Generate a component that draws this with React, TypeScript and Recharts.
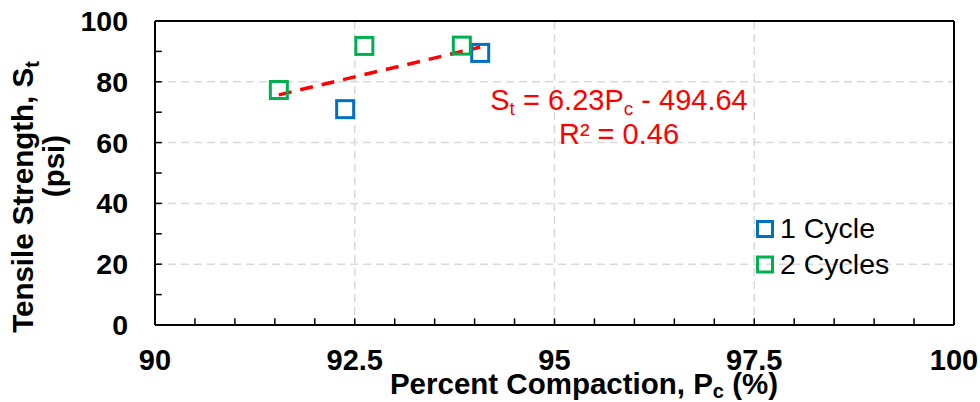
import { ScatterChart, Scatter, XAxis, YAxis, CartesianGrid, ReferenceLine, Customized } from 'recharts';

const FONT = '"Liberation Sans", Arial, sans-serif';

const cycle1 = [
  { x: 92.38, y: 71.0 },
  { x: 94.07, y: 89.5 },
];
const cycle2 = [
  { x: 91.55, y: 77.3 },
  { x: 92.62, y: 91.8 },
  { x: 93.84, y: 91.9 },
];
// linear trend over all points (end points)
const trend = [
  { x: 91.55, y: 75.7 },
  { x: 94.07, y: 91.4 },
];

const xTicks = [90, 92.5, 95, 97.5, 100];
const yTicks = [0, 20, 40, 60, 80, 100];
const xMinor = [90.5, 91, 91.5, 92, 92.5, 93, 93.5, 94, 94.5, 95, 95.5, 96, 96.5, 97, 97.5, 98, 98.5, 99, 99.5];
const yMinor = [10, 20, 30, 40, 50, 60, 70, 80, 90];

const BLUE = '#0070c0';
const GREEN = '#00b050';

const square = (color: string) => (props: any) => {
  const { cx, cy } = props;
  if (cx == null || cy == null) return <g />;
  return <rect x={cx - 8.5} y={cy - 8.5} width={17} height={17} fill="none" stroke={color} strokeWidth={3} />;
};

const XTick = ({ x, y, payload }: any) => (
  <text x={x} y={y + 45} textAnchor="middle" fontFamily={FONT} fontWeight="bold" fontSize={29} fill="#000">
    {payload.value}
  </text>
);

const YTick = ({ x, y, payload }: any) => (
  <text x={x} y={y} dy={10} textAnchor="end" fontFamily={FONT} fontWeight="bold" fontSize={28.5} fill="#000">
    {payload.value}
  </text>
);

const Extras = () => (
  <g fontFamily={FONT}>
    {/* y axis title */}
    <text transform="translate(33,197) rotate(-90)" textAnchor="middle" fontWeight="bold" fontSize={29.5} fill="#000">
      Tensile Strength, S<tspan fontSize={20} dy={6}>t</tspan>
    </text>
    <text transform="translate(64,166) rotate(-90)" textAnchor="middle" fontWeight="bold" fontSize={29.5} fill="#000">
      (psi)
    </text>
    {/* x axis title */}
    <text x={584} y={394} textAnchor="middle" fontWeight="bold" fontSize={29.5} fill="#000">
      Percent Compaction, P<tspan fontSize={20} dy={4}>c</tspan>
      <tspan dy={-4}> (%)</tspan>
    </text>
    {/* trend equation */}
    <text x={619} y={110} textAnchor="middle" fontSize={29} fill="#ff0000">
      S<tspan fontSize={19} dy={5}>t</tspan>
      <tspan dy={-5}> = 6.23P</tspan>
      <tspan fontSize={19} dy={5}>c</tspan>
      <tspan dy={-5}> - 494.64</tspan>
    </text>
    <text x={619} y={144} textAnchor="middle" fontSize={29} fill="#ff0000">
      R² = 0.46
    </text>
    {/* legend */}
    <rect x={757.5} y={221.5} width={15} height={15} fill="none" stroke={BLUE} strokeWidth={3} />
    <text x={780} y={238} fontSize={28.5} fill="#000">1 Cycle</text>
    <rect x={757.5} y={257} width={15} height={15} fill="none" stroke={GREEN} strokeWidth={3} />
    <text x={780} y={274} fontSize={28.5} fill="#000">2 Cycles</text>
  </g>
);

export default function App() {
  return (
    <div style={{ position: 'absolute', left: 0, top: 0, width: 980, height: 402, background: '#fff' }}>
      <ScatterChart width={980} height={402} margin={{ top: 21, right: 26, bottom: 0, left: 0 }}>
        <CartesianGrid stroke="#d9d9d9" strokeWidth={1.5} strokeDasharray="8 5" />
        <XAxis
          type="number"
          dataKey="x"
          domain={[90, 100]}
          ticks={xTicks}
          interval={0}
          height={77}
          tickLine={false}
          tickSize={0}
          tickMargin={0}
          axisLine={{ stroke: '#000', strokeWidth: 2 }}
          tick={<XTick />}
        />
        <YAxis
          type="number"
          dataKey="y"
          domain={[0, 100]}
          ticks={yTicks}
          interval={0}
          width={155}
          tickLine={false}
          tickSize={0}
          tickMargin={27}
          axisLine={{ stroke: '#000', strokeWidth: 2 }}
          tick={<YTick />}
        />
        <ReferenceLine y={100} stroke="#000" strokeWidth={2} />
        <ReferenceLine x={100} stroke="#000" strokeWidth={2} />
        {xMinor.map((v) => (
          <ReferenceLine key={'xm' + v} segment={[{ x: v, y: 0 }, { x: v, y: 2.2 }]} stroke="#000" strokeWidth={1.5} />
        ))}
        {yMinor.map((v) => (
          <ReferenceLine key={'ym' + v} segment={[{ x: 90, y: v }, { x: 90.085, y: v }]} stroke="#000" strokeWidth={1.5} />
        ))}
        <ReferenceLine
          segment={[trend[0], trend[1]]}
          stroke="#ff0000"
          strokeWidth={3.5}
          strokeDasharray="13 9"
        />
        <Scatter name="1 Cycle" data={cycle1} shape={square(BLUE)} isAnimationActive={false} />
        <Scatter name="2 Cycles" data={cycle2} shape={square(GREEN)} isAnimationActive={false} />
        <Customized component={<Extras />} />
      </ScatterChart>
    </div>
  );
}
